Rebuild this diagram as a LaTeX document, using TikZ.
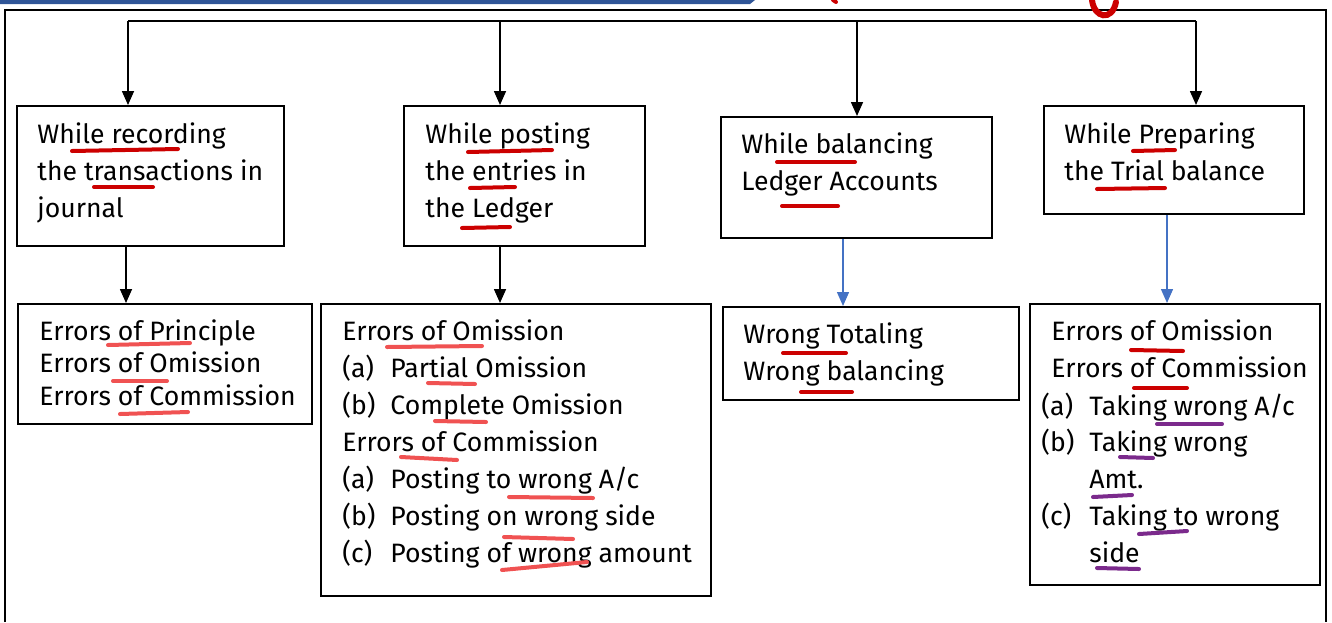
\documentclass[tikz,border=0pt]{standalone}
\usepackage{fontspec}
\setmainfont{Fira Sans}
\usetikzlibrary{positioning,arrows.meta}
\definecolor{barblue}{HTML}{2F5597}
\definecolor{linkblue}{HTML}{4472C4}
\definecolor{penred}{HTML}{CC0000}
\definecolor{penpink}{HTML}{F05252}
\definecolor{penpurple}{HTML}{7B2A8C}
\newcommand{\itemtag}[1]{\makebox[24pt][l]{#1}}

\begin{document}
\begin{tikzpicture}[x=0.5pt,y=-0.5pt,
	box/.style={draw, line width=1pt, inner sep=0pt, anchor=north west},
	txt/.style={anchor=base west, inner sep=0pt, font=\fontsize{13.3}{15}\selectfont},
	feed/.style={line width=0.8pt, -{Triangle[length=7pt,width=6pt]}},
	bluefeed/.style={linkblue, line width=0.7pt, -{Triangle[length=7pt,width=6pt]}},
	penline/.style={line width=2pt, line cap=round}]
	\useasboundingbox (0,0) rectangle (1332,622);
	\pgfmathsetmacro{\Gap}{37}
	% FRAME
	\fill[barblue] (0,0) -- (755,0) -- (750,4) -- (0,4) -- cycle;
	\draw[line width=0.8pt] (5,622) -- (5,10) -- (1326,10) -- (1326,622);
	% TOP ROW
	\node[box, minimum width=133.5pt, minimum height=70pt] (rec) at (16,105) {};
	\node[box, minimum width=120.5pt, minimum height=70pt] (post) at (403,105) {};
	\node[box, minimum width=135.5pt, minimum height=60.5pt] (bal) at (720,116) {};
	\node[box, minimum width=130pt, minimum height=54pt] (trial) at (1043,105) {};
	% BOTTOM ROW
	\node[box, minimum width=147pt, minimum height=60pt] (errA) at (17,303) {};
	\node[box, minimum width=195pt, minimum height=146pt] (errB) at (320,303) {};
	\node[box, minimum width=148pt, minimum height=46.5pt] (errC) at (722,306) {};
	\node[box, minimum width=145pt, minimum height=140.5pt] (errD) at (1029,303) {};
	% RAIL
	\coordinate (railA) at (128,21);
	\coordinate (railB) at (500,21);
	\coordinate (railC) at (857,21);
	\coordinate (railD) at (1196,21);
	\draw[line width=0.8pt] (railA) -- (railD);
	\draw[feed] (railA) -- (railA |- rec.north);
	\draw[feed] (railB) -- (railB |- post.north);
	\draw[feed] (railC) -- (railC |- bal.north);
	\draw[feed] (railD) -- (railD |- trial.north);
	% DROPS
	\coordinate (dropA) at (126,0);
	\coordinate (dropB) at (500,0);
	\coordinate (dropC) at (843,0);
	\coordinate (dropD) at (1167,0);
	\draw[feed] (dropA |- rec.south) -- (dropA |- errA.north);
	\draw[feed] (dropB |- post.south) -- (dropB |- errB.north);
	\draw[bluefeed] (dropC |- bal.south) -- (dropC |- errC.north);
	\draw[bluefeed] (dropD |- trial.south) -- (dropD |- errD.north);
	% TEXTS
	\foreach \line [count=\i] in {While recording, the transactions in, journal}
		\node[txt, name=recT\i] at (37,{143+\Gap*(\i-1)}) {\line};
	\foreach \line [count=\i] in {While posting, the entries in, the Ledger}
		\node[txt, name=postT\i] at (425,{143+\Gap*(\i-1)}) {\line};
	\foreach \line [count=\i] in {While balancing, Ledger Accounts}
		\node[txt, name=balT\i] at (741,{153+\Gap*(\i-1)}) {\line};
	\foreach \line [count=\i] in {While Preparing, the Trial balance}
		\node[txt, name=trialT\i] at (1064,{143+\Gap*(\i-1)}) {\line};
	\foreach \line [count=\i] in {Errors of Principle, Errors of Omission, Errors of Commission}
		\node[txt, name=errAT\i] at (39,{340+32.5*(\i-1)}) {\line};
	\foreach \line [count=\i] in {Errors of Omission, \itemtag{(a)}Partial Omission, \itemtag{(b)}Complete Omission, Errors of Commission, \itemtag{(a)}Posting to wrong A/c, \itemtag{(b)}Posting on wrong side, \itemtag{(c)}Posting of wrong amount}
		\node[txt, name=errBT\i] at (342,{340+37*(\i-1)}) {\line};
	\foreach \line [count=\i] in {Wrong Totaling, Wrong balancing}
		\node[txt, name=errCT\i] at (743,{343+\Gap*(\i-1)}) {\line};
	\foreach \line [count=\i] in {Errors of Omission, Errors of Commission}
		\node[txt, name=errDT\i] at (1051,{340+\Gap*(\i-1)}) {\line};
	\foreach \line [count=\i] in {\itemtag{(a)}Taking wrong A/c, \itemtag{(b)}Taking wrong, \itemtag{}Amt., \itemtag{(c)}Taking to wrong, \itemtag{}side}
		\node[txt, name=errDS\i] at (1041,{415+36.8*(\i-1)}) {\line};
	% PEN MARKS
	\draw[penline, penred, line width=3pt] (1092,0) .. controls (1094,18) and (1112,22) .. (1116,2);
	\draw[penline, penred] (833,0) -- (836,2);
	\draw[penline, penred] (72,151) -- (178,149);
	\draw[penline, penred] (94,187) -- (153,187);
	\draw[penline, penred] (468,152) -- (552,150);
	\draw[penline, penred] (470,188) -- (515,187);
	\draw[penline, penred] (462,228) -- (510,227);
	\draw[penline, penred] (777,162) -- (855,162);
	\draw[penline, penred] (782,206) -- (838,206);
	\draw[penline, penred] (1133,151) -- (1175,150);
	\draw[penline, penred] (1097,189) -- (1165,188);
	\draw[penline, penpink] (108,345) -- (190,343);
	\draw[penline, penpink] (113,381) -- (167,381);
	\draw[penline, penpink] (120,414) -- (188,412);
	\draw[penline, penpink] (387,347) -- (482,346);
	\draw[penline, penpink] (428,383) -- (475,384);
	\draw[penline, penpink] (435,421) -- (486,422);
	\draw[penline, penpink] (401,457) -- (457,460);
	\draw[penline, penpink] (509,497) -- (593,498);
	\draw[penline, penpink] (504,537) -- (573,539);
	\draw[penline, penpink] (502,570) -- (587,562);
	\draw[penline, penred] (783,353) -- (846,353);
	\draw[penline, penred] (801,392) -- (852,392);
	\draw[penline, penred] (1131,350) -- (1183,351);
	\draw[penline, penred] (1134,388) -- (1187,388);
	\draw[penline, penpurple] (1157,424) -- (1222,424);
	\draw[penline, penpurple] (1120,457) -- (1153,458);
	\draw[penline, penpurple] (1093,497) -- (1132,495);
	\draw[penline, penpurple] (1139,534) -- (1187,531);
	\draw[penline, penpurple] (1097,568) -- (1139,569);
\end{tikzpicture}
\end{document}
